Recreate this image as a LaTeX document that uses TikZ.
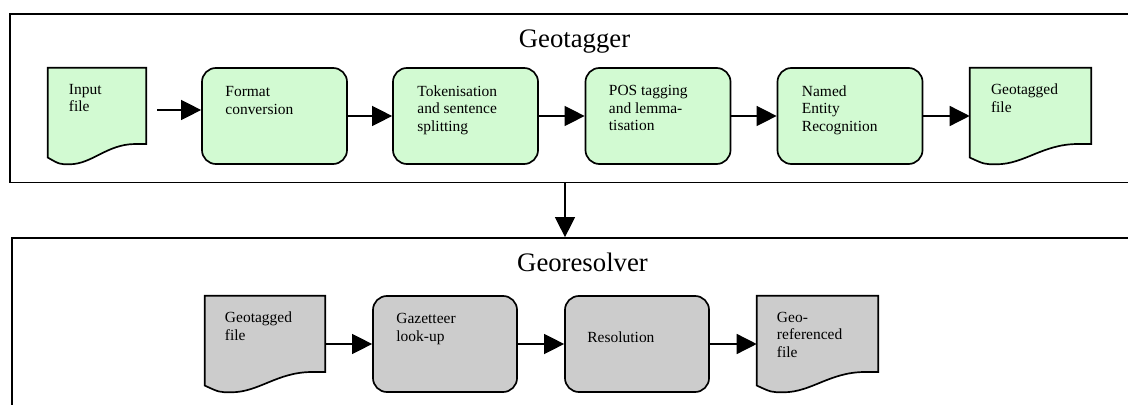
\documentclass[tikz,border=0pt]{standalone}
\usepackage{fontspec}
\setmainfont{Liberation Serif}
\usepackage{xcolor}
\usetikzlibrary{calc}
\usetikzlibrary{arrows.meta}

\definecolor{tagfill}{RGB}{210,250,210}
\definecolor{resfill}{RGB}{204,204,204}

\tikzset{
	boxline/.style={line width=1.2pt},
	procbox/.style={draw, boxline, rounded corners=0.35cm, minimum height=2.4cm, inner sep=0},
	docbox/.style={minimum height=2.4cm, inner sep=0},
	boxtext/.style={anchor=north west, inner sep=0, align=left, font=\fontsize{11}{12.5}\selectfont},
	flow/.style={line width=1pt, -{Triangle[length=0.5cm,width=0.5cm]}},
	frame/.style={draw, line width=1.2pt, inner sep=0},
	title/.style={anchor=base, inner sep=0, font=\fontsize{19}{22}\selectfont}
}

% document shape with a wavy bottom, drawn round an empty node
\newcommand{\docfill}[2]{%
	\filldraw[boxline, fill=#2]
		let \p1=(#1.north west), \p2=(#1.south east) in
		(\x1,\y1) -- (\x2,\y1) -- (\x2,{\y1+0.79*(\y2-\y1)})
		-- ({\x1+0.89*(\x2-\x1)},{\y1+0.79*(\y2-\y1)})
		.. controls ({\x1+0.6*(\x2-\x1)},{\y1+0.79*(\y2-\y1)}) and ({\x1+0.45*(\x2-\x1)},\y2) .. ({\x1+0.22*(\x2-\x1)},\y2)
		.. controls ({\x1+0.12*(\x2-\x1)},\y2) .. (\x1,{\y1+0.93*(\y2-\y1)}) -- cycle;}

\begin{document}
\begin{tikzpicture}[x=0.025cm, y=-0.025cm]
			\useasboundingbox (0,0) rectangle (1128,405);
			\clip (0,0) rectangle (1128,405);

			% frames
			\node[frame, minimum width=28.25cm, minimum height=4.2125cm] (gt) at (575,98.25) {};
			\node[frame, minimum width=28.2cm, minimum height=4.55cm] (gr) at (576,329) {};
			\node[title] (gt-title) at (574.5,48) {Geotagger};
			\node[title] (gr-title) at (582.5,272) {Georesolver};

			% geotagger
			\node[docbox, minimum width=2.45cm] (in) at (97,116) {};
			\docfill{in}{tagfill}
			\node[procbox, fill=tagfill, minimum width=3.625cm] (fmt) at (274.5,116) {};
			\node[procbox, fill=tagfill, minimum width=3.625cm] (tok) at (465.5,116) {};
			\node[procbox, fill=tagfill, minimum width=3.625cm] (pos) at (658,116) {};
			\node[procbox, fill=tagfill, minimum width=3.625cm] (ner) at (850,116) {};
			\node[docbox, minimum width=3.025cm] (out) at (1030.5,116) {};
			\docfill{out}{tagfill}

			\node[boxtext] (in-t) at ([shift={(21,16)}]in.north west) {Input\\file};
			\node[boxtext] (fmt-t) at ([shift={(24,19)}]fmt.north west) {Format\\conversion};
			\node[boxtext] (tok-t) at ([shift={(25,18)}]tok.north west) {Tokenisation\\and sentence\\splitting};
			\node[boxtext] (pos-t) at ([shift={(24,18)}]pos.north west) {POS tagging\\and lemma-\\tisation};
			\node[boxtext] (ner-t) at ([shift={(25,18)}]ner.north west) {Named\\Entity\\Recognition};
			\node[boxtext] (out-t) at ([shift={(21,16)}]out.north west) {Geotagged\\file};

			\coordinate (in-a) at (157,110);
			\draw[flow] (in-a) -- (in-a -| fmt.west);
			\draw[flow] (fmt.east) -- (tok.west);
			\draw[flow] (tok.east) -- (pos.west);
			\draw[flow] (pos.east) -- (ner.west);
			\draw[flow] (ner.east) -- (out.west);

			\draw[flow] ([xshift=-0.25cm]gt.south) -- ([xshift=-0.25cm]gt.south |- gr.north);

			% georesolver
			\node[docbox, minimum width=3cm] (gin) at (265,344) {};
			\docfill{gin}{resfill}
			\node[procbox, fill=resfill, minimum width=3.6cm] (gaz) at (445,344) {};
			\node[procbox, fill=resfill, minimum width=3.6cm] (res) at (637,344) {};
			\node[docbox, minimum width=3.025cm] (geo) at (817.5,344) {};
			\docfill{geo}{resfill}

			\node[boxtext] (gin-t) at ([shift={(20,16)}]gin.north west) {Geotagged\\file};
			\node[boxtext] (gaz-t) at ([shift={(24,18)}]gaz.north west) {Gazetteer\\look-up};
			\node[boxtext] (res-t) at ([shift={(23,36)}]res.north west) {Resolution};
			\node[boxtext] (geo-t) at ([shift={(20,16)}]geo.north west) {Geo-\\referenced\\file};

			\draw[flow] (gin.east) -- (gaz.west);
			\draw[flow] (gaz.east) -- (res.west);
			\draw[flow] (res.east) -- (geo.west);
\end{tikzpicture}
\end{document}
